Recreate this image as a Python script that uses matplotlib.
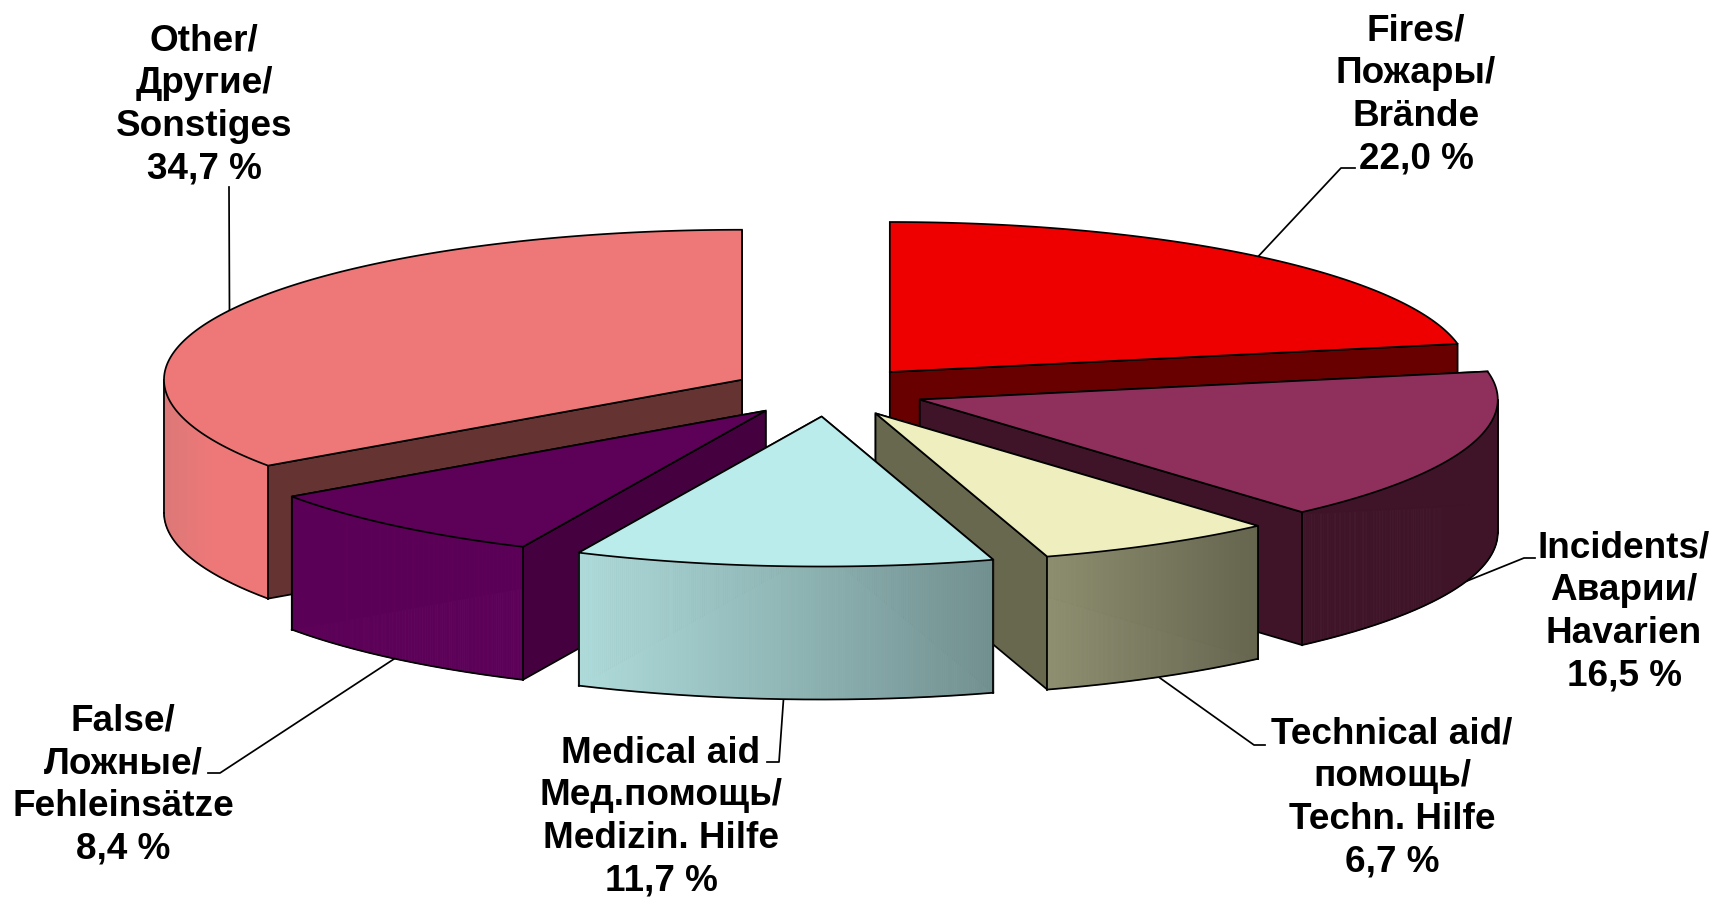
import numpy as np
import matplotlib
matplotlib.use('Agg')
import matplotlib.pyplot as plt
from matplotlib.colors import to_rgb
from matplotlib.patches import Polygon

# Dados, no sentido horario a partir das 12 horas
shares = [22.0, 16.5, 6.7, 11.7, 8.4, 34.7]
names = ['Fires/\nПожары/\nBrände',
         'Incidents/\nАварии/\nHavarien',
         'Technical aid/\nпомощь/\nTechn. Hilfe',
         'Medical aid\nМед.помощь/\nMedizin. Hilfe',
         'False/\nЛожные/\nFehleinsätze',
         'Other/\nДругие/\nSonstiges']

# Cores: topo, corte, parede (esquerda -> direita)
top_col = ['#ee0000', '#8e2f5c', '#eeeebe', '#bbecec', '#5c0058', '#ee7878']
cut_col = ['#690000', '#3f1429', '#68684f', '#68684f', '#450040', '#663333']
rim_a = ['#690000', '#3f1429', '#8e8e70', '#aedbdb', '#5c0058', '#dc7878']
rim_b = ['#690000', '#3f1429', '#666650', '#729090', '#5c0058', '#ee7878']

# Geometria em pixels da figura
cx, cy = 828.0, 391.4
rx, ry = 578.0, 150.0
depth = 133.0
explode = 97.0

# Posicao dos textos e cotovelo das linhas de chamada
text_pos = [(1416, 95), (1624, 612), (1392, 798), (661, 817), (123, 785), (204, 105)]
elbows = [[(1341, 168), (1355, 168)],
          [(1524, 558), (1535, 558)],
          [(1254, 745), (1265, 745)],
          [(779, 762), (767, 762)],
          [(220, 773), (208, 773)],
          [(229, 187)]]
# So Other e Fires saem do topo, o resto sai da base da parede
leader_on_top = [True, False, False, False, False, True]

order = [0, 5, 1, 4, 2, 3]

fig = plt.figure(figsize=(17.17, 8.99), dpi=100)
ax = fig.add_axes([0, 0, 1, 1])
ax.set_xlim(0, 1717)
ax.set_ylim(899, 0)
ax.axis('off')

edges = np.cumsum([0] + shares) / np.sum(shares) * 2 * np.pi
lw = 1.25


def rim(ox, oy, ang):
    return ox + rx * np.sin(ang), oy - ry * np.cos(ang)


for z, i in enumerate(order):
    z = z * 10
    t0, t1 = edges[i], edges[i + 1]
    mid = (t0 + t1) / 2
    ox = cx + explode * np.sin(mid)
    oy = cy - explode * ry / rx * np.cos(mid)

    ang = np.linspace(t0, t1, 200)
    x, y = rim(ox, oy, ang)

    # Faces do corte, a face visivel por ultimo
    faces = (t0, t1) if t1 < np.pi else (t1, t0)
    for t in faces:
        px, py = rim(ox, oy, t)
        face = [(ox, oy), (px, py), (px, py + depth), (ox, oy + depth)]
        ax.add_patch(Polygon(face, closed=True, fc=cut_col[i], ec='black', lw=lw, zorder=z))

    # Parede curva com degrade, so a parte da frente aparece
    a0, a1 = max(t0, np.pi / 2), min(t1, 3 * np.pi / 2)
    if a0 < a1:
        wall = np.linspace(a0, a1, 200)
        wx, wy = rim(ox, oy, wall)
        xmin, xmax = wx.min(), wx.max()
        ca, cb = np.array(to_rgb(rim_a[i])), np.array(to_rgb(rim_b[i]))
        for k in range(len(wall) - 1):
            f = ((wx[k] + wx[k + 1]) / 2 - xmin) / (xmax - xmin)
            if i == 5:
                f = min(f * 2.2, 1)
            c = ca + (cb - ca) * f
            quad = [(wx[k], wy[k]), (wx[k + 1], wy[k + 1]),
                    (wx[k + 1], wy[k + 1] + depth), (wx[k], wy[k] + depth)]
            ax.add_patch(Polygon(quad, closed=True, fc=c, ec=c, lw=0.6, zorder=z + 1))
        ax.plot(wx, wy + depth, color='black', lw=lw, zorder=z + 2)
        for xe, ye in ((wx[0], wy[0]), (wx[-1], wy[-1])):
            ax.plot([xe, xe], [ye, ye + depth], color='black', lw=lw, zorder=z + 2)

    # Topo
    pts = [(ox, oy)] + list(zip(x, y))
    ax.add_patch(Polygon(pts, closed=True, fc=top_col[i], ec='black', lw=lw,
                         joinstyle='miter', zorder=z + 3))

    # Linha de chamada
    lx, ly = rim(ox, oy, mid)
    if not leader_on_top[i]:
        ly = ly + depth
    lxs = [lx] + [p[0] for p in elbows[i]]
    lys = [ly] + [p[1] for p in elbows[i]]
    ax.plot(lxs, lys, color='black', lw=1.25, zorder=-1)

    label = names[i] + '\n' + ('%.1f %%' % shares[i]).replace('.', ',')
    ax.text(text_pos[i][0], text_pos[i][1], label, ha='center', va='center',
            family='Liberation Sans', weight='bold', fontsize=26.6,
            linespacing=1.28, color='black', zorder=100)

fig.savefig('out.png', dpi=100)
